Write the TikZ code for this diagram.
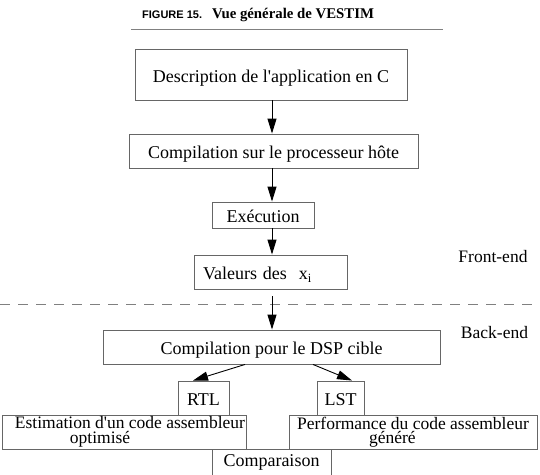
\documentclass[tikz,border=0pt]{standalone}
\usepackage{fontspec}
\setmainfont{Liberation Serif}
\newfontfamily\figfont{Liberation Sans}
\usetikzlibrary{arrows.meta}

\begin{document}
\begin{tikzpicture}[x=1pt,y=-1pt]

\tikzset{line/.style={draw,line width=0.9pt}}
\tikzset{arrow/.style={line,-{Triangle[length=15pt,width=9pt]}}}
\tikzset{box/.style={draw=black!60,line width=0.9pt,inner xsep=0pt,inner ysep=2pt,font=\fontsize{18}{14}\selectfont,text height=17pt,text depth=2pt,minimum height=34pt}}
\tikzset{twoline/.style={draw=black!60,line width=0.9pt,inner sep=0pt,font=\fontsize{17.5}{14.5}\selectfont,align=left,minimum height=34pt}}
\tikzset{side/.style={anchor=base,inner sep=0pt,font=\fontsize{17.5}{20}\selectfont}}

\useasboundingbox (0,0) rectangle (540,474);

\node[anchor=base west,inner sep=0pt,font=\figfont\bfseries\fontsize{11}{13}\selectfont] (fignum) at (142,18) {FIGURE 15.};
\node[anchor=base west,inner sep=0pt,font=\bfseries\fontsize{14.8}{16}\selectfont] (figtitle) at (212,18) {Vue générale de VESTIM};
\draw[black!50,line width=0.8pt] (131,29.5) -- (443,29.5);

\node[box,minimum width=272pt,minimum height=51pt] (descr) at (271,74.5) {Description de l\textquotesingle application en C};
\node[box,minimum width=289pt] (compil) at (273.5,151) {Compilation sur le processeur hôte};
\node[box,minimum width=102pt,minimum height=26pt] (exec) at (263,215) {Exécution};
\node[box,minimum width=153pt,text width=135pt,align=left] (valeurs) at (270.5,272) {Valeurs des\ \ x\textsubscript{i}};

\node[side] (front) at (493,262) {Front-end};
\draw[black!50,line width=0.9pt,dash pattern=on 10pt off 8pt] (0,304) -- (535,304);
\node[side] (back) at (494.5,338) {Back-end};

\node[box,minimum width=337pt] (dsp) at (271.5,347) {Compilation pour le DSP cible};
\node[box,minimum width=51pt] (rtl) at (203.5,398) {RTL};
\node[box,minimum width=47pt] (lst) at (340.5,398) {LST};
\node[twoline,minimum width=244pt] (estim) at (124,432) {\hspace*{6pt}Estimation d\textquotesingle un code assembleur\hspace*{-6pt}\\\hspace*{61pt}optimisé};
\node[twoline,minimum width=248pt] (perf) at (413,432) {Performance du code assembleur\\\hspace*{72pt}généré};
\node[box,minimum width=119pt,minimum height=26pt,text height=12pt,text depth=4pt] (compar) at (271.5,462) {Comparaison};

\coordinate (axis) at (272,0);
\path[arrow] (axis |- descr.south) -- (axis |- compil.north);
\path[arrow] (axis |- compil.south) -- (axis |- exec.north);
\path[arrow] (axis |- exec.south) -- (axis |- valeurs.north);
\path[arrow,shorten <=7pt] (axis |- valeurs.south) -- (axis |- dsp.north);
\path[arrow] ([xshift=-26.5pt]dsp.south) -- ([xshift=-10.5pt]rtl.north);
\path[arrow] ([xshift=41.5pt]dsp.south) -- ([xshift=11.5pt]lst.north);

\end{tikzpicture}
\end{document}
